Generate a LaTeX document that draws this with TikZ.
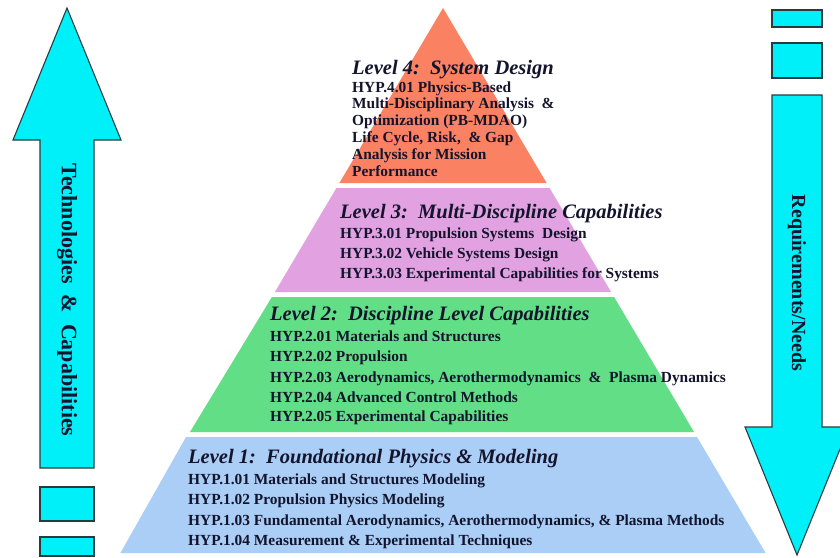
\documentclass[tikz,border=0pt]{standalone}
\usepackage{fontspec}
\setmainfont{Liberation Serif}
\definecolor{lvfour}{RGB}{250,130,98}
\definecolor{lvthree}{RGB}{226,162,226}
\definecolor{lvtwo}{RGB}{98,222,134}
\definecolor{lvone}{RGB}{170,206,246}
\definecolor{arrowcyan}{RGB}{0,240,250}
\definecolor{arrowedge}{RGB}{40,60,64}
\definecolor{ink}{RGB}{20,20,45}
\begin{document}
\begin{tikzpicture}[x=1pt,y=-1pt,
  cyanshape/.style={fill=arrowcyan,draw=arrowedge,line width=1.1pt,line join=miter},
  head/.style={anchor=base west,inner sep=0pt,text=ink,font=\fontsize{20.5}{22}\selectfont\bfseries\itshape},
  item/.style={anchor=base west,inner sep=0pt,text=ink,font=\fontsize{15.4}{17}\selectfont\bfseries},
  sidetext/.style={inner sep=0pt,text=ink,font=\fontsize{20}{22}\selectfont\bfseries,rotate=-90}]
\useasboundingbox (0,0) rectangle (840,557);
\fill[white] (0,0) rectangle (840,557);
% pyramid bands
\fill[lvfour] (443,8) -- (546.6,183) -- (339.4,183) -- cycle;
\fill[lvthree] (336.4,188) -- (549.6,188) -- (611.1,292) -- (274.9,292) -- cycle;
\fill[lvtwo] (271.9,297) -- (614.1,297) -- (694,432) -- (190,432) -- cycle;
\fill[lvone] (186,437) -- (697,437) -- (765.6,553) -- (120.4,553) -- cycle;
% left arrow
\draw[cyanshape] (67,8) -- (121,140) -- (94,140) -- (94,468) -- (40,468) -- (40,140) -- (13,140) -- cycle;
\draw[cyanshape] (40,487) rectangle (94,521);
\draw[cyanshape] (40,537) rectangle (94,556);
\node[sidetext,font=\fontsize{22}{24}\selectfont\bfseries] (lefttext) at (67,300) {Technologies \ \&\ \ Capabilities};
% right arrow
\draw[cyanshape] (772,10) rectangle (822,27);
\draw[cyanshape] (772,43) rectangle (822,78);
\draw[cyanshape] (772,95) -- (822,95) -- (822,427) -- (849,427) -- (797,555) -- (745,427) -- (772,427) -- cycle;
\node[sidetext] (righttext) at (797,283) {Requirements/Needs};
% level 4
\node[head] (l4h) at (352,74) {Level 4:\ \ System Design};
\node[item] (l4a) at (352,92) {HYP.4.01 Physics-Based};
\node[item] (l4b) at (352,108.8) {Multi-Disciplinary Analysis \ \&};
\node[item] (l4c) at (352,125.6) {Optimization (PB-MDAO)};
\node[item] (l4d) at (352,142.4) {Life Cycle, Risk, \ \& Gap};
\node[item] (l4e) at (352,159.2) {Analysis for Mission};
\node[item] (l4f) at (352,176) {Performance};
% level 3
\node[head] (l3h) at (340,218) {Level 3:\ \ Multi-Discipline Capabilities};
\node[item] (l3a) at (340,238) {HYP.3.01 Propulsion Systems \ Design};
\node[item] (l3b) at (340,258) {HYP.3.02 Vehicle Systems Design};
\node[item] (l3c) at (340,278) {HYP.3.03 Experimental Capabilities for Systems};
% level 2
\node[head] (l2h) at (270,320) {Level 2:\ \ Discipline Level Capabilities};
\node[item] (l2a) at (270,341) {HYP.2.01 Materials and Structures};
\node[item] (l2b) at (270,361) {HYP.2.02 Propulsion};
\node[item] (l2c) at (270,382) {HYP.2.03 Aerodynamics, Aerothermodynamics \ \& \ Plasma Dynamics};
\node[item] (l2d) at (270,402) {HYP.2.04 Advanced Control Methods};
\node[item] (l2e) at (270,421) {HYP.2.05 Experimental Capabilities};
% level 1
\node[head] (l1h) at (188,463) {Level 1:\ \ Foundational Physics \& Modeling};
\node[item] (l1a) at (188,484) {HYP.1.01 Materials and Structures Modeling};
\node[item] (l1b) at (188,504) {HYP.1.02 Propulsion Physics Modeling};
\node[item] (l1c) at (188,525) {HYP.1.03 Fundamental Aerodynamics, Aerothermodynamics, \& Plasma Methods};
\node[item] (l1d) at (188,545) {HYP.1.04 Measurement \& Experimental Techniques};
\end{tikzpicture}
\end{document}
